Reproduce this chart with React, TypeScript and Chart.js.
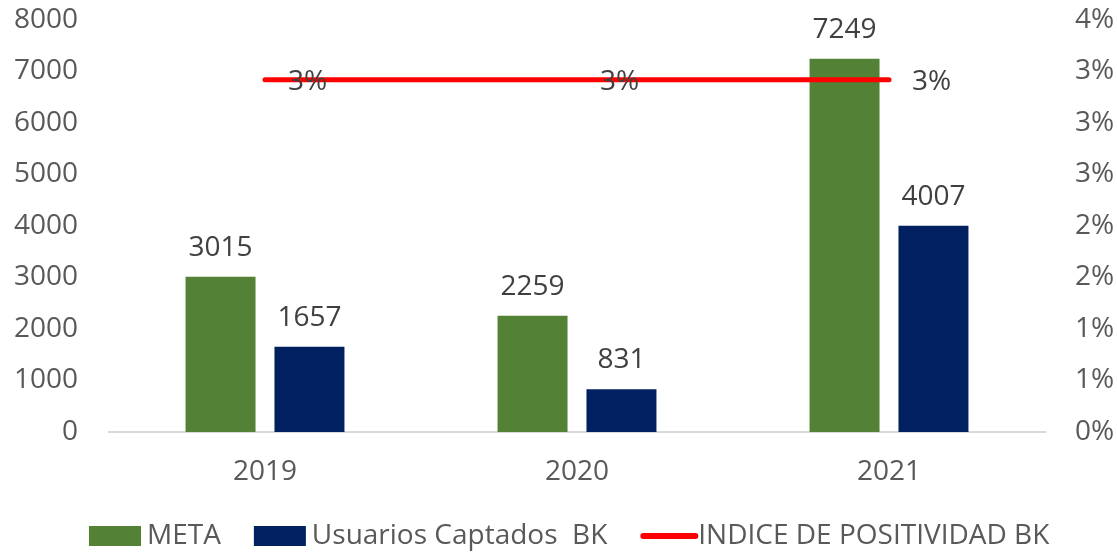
import React, { useEffect, useRef } from "react";
import { Chart, registerables } from "chart.js";

Chart.register(...registerables);

const CATEGORIES = ["2019", "2020", "2021"];
const META = [3015, 2259, 7249];
const USUARIOS = [1657, 831, 4007];
const POSITIVIDAD = [0.0342, 0.0342, 0.0342];
const POSITIVIDAD_LABELS = ["3%", "3%", "3%"];
const LEFT_TICKS = [0, 1000, 2000, 3000, 4000, 5000, 6000, 7000, 8000];
const RIGHT_TICK_LABELS = ["0%", "1%", "1%", "2%", "2%", "3%", "3%", "3%", "4%"];
const SERIES_NAMES = ["META", "Usuarios Captados  BK", "INDICE DE POSITIVIDAD BK"];

const GREEN = "#538135";
const NAVY = "#002060";
const RED = "#FF0000";
const AXIS_TEXT = "#595959";
const LABEL_TEXT = "#404040";
const FONT_FAMILY = "'Open Sans', sans-serif";
const FONT_SIZE = 28;

const dataLabelsPlugin = {
  id: "dataLabelsCustom",
  afterDatasetsDraw(chart: any) {
    const ctx = chart.ctx;
    ctx.save();
    ctx.font = `${FONT_SIZE}px ${FONT_FAMILY}`;
    ctx.fillStyle = LABEL_TEXT;
    chart.data.datasets.forEach((ds: any, i: number) => {
      const meta = chart.getDatasetMeta(i);
      meta.data.forEach((el: any, j: number) => {
        if (ds.type === "line") {
          ctx.textAlign = "left";
          ctx.textBaseline = "middle";
          ctx.fillText(POSITIVIDAD_LABELS[j], el.x + 23, el.y + 2);
        } else {
          ctx.textAlign = "center";
          ctx.textBaseline = "middle";
          ctx.fillText(String(ds.data[j]), el.x, el.y - 29);
        }
      });
    });
    ctx.restore();
  },
};

const legendPlugin = {
  id: "legendCustom",
  afterDraw(chart: any) {
    const ctx = chart.ctx;
    ctx.save();
    ctx.font = `${FONT_SIZE}px ${FONT_FAMILY}`;
    const boxW = 52;
    const boxH = 20;
    const gapBoxText = 6;
    const gapItems = 33;
    const widths = SERIES_NAMES.map((n) => ctx.measureText(n).width);
    let x = 89;
    const cy = 536;
    const colors = [GREEN, NAVY, RED];
    SERIES_NAMES.forEach((name, i) => {
      if (i < 2) {
        ctx.fillStyle = colors[i];
        ctx.fillRect(x, cy - boxH / 2, boxW, boxH);
      } else {
        ctx.strokeStyle = colors[i];
        ctx.lineWidth = 6;
        ctx.lineCap = "round";
        ctx.beginPath();
        ctx.moveTo(x + 3, cy);
        ctx.lineTo(x + boxW + 3, cy);
        ctx.stroke();
      }
      x += boxW + gapBoxText;
      ctx.fillStyle = AXIS_TEXT;
      ctx.textAlign = "left";
      ctx.textBaseline = "middle";
      ctx.fillText(name, x, cy);
      x += widths[i] + gapItems;
    });
    ctx.restore();
  },
};

export default function App() {
  const canvasRef = useRef<HTMLCanvasElement | null>(null);

  useEffect(() => {
    if (!canvasRef.current) return;
    const tickFont = { family: FONT_FAMILY, size: FONT_SIZE };
    const chart = new Chart(canvasRef.current, {
      type: "bar",
      data: {
        labels: CATEGORIES,
        datasets: [
          {
            type: "line",
            label: SERIES_NAMES[2],
            data: POSITIVIDAD,
            yAxisID: "y1",
            borderColor: RED,
            backgroundColor: RED,
            borderWidth: 5,
            borderCapStyle: "round",
            pointRadius: 0,
            tension: 0,
            order: 0,
          } as any,
          {
            type: "bar",
            label: SERIES_NAMES[0],
            data: META,
            yAxisID: "y",
            backgroundColor: GREEN,
            categoryPercentage: 0.57,
            barPercentage: 0.787,
            order: 1,
          },
          {
            type: "bar",
            label: SERIES_NAMES[1],
            data: USUARIOS,
            yAxisID: "y",
            backgroundColor: NAVY,
            categoryPercentage: 0.57,
            barPercentage: 0.787,
            order: 1,
          },
        ],
      },
      options: {
        animation: false,
        responsive: true,
        maintainAspectRatio: false,
        layout: { padding: { top: 20, bottom: 50, left: 0, right: 0 } },
        plugins: {
          legend: { display: false },
          tooltip: { enabled: false },
        },
        scales: {
          x: {
            grid: { display: false, drawTicks: false },
            border: { display: true, color: "#D9D9D9", width: 2 },
            ticks: { color: AXIS_TEXT, font: tickFont, padding: 23 },
            afterFit(scale: any) {
              scale.height = 70;
              scale.paddingLeft = 0;
              scale.paddingRight = 0;
            },
          },
          y: {
            position: "left",
            min: 0,
            max: 8000,
            grid: { display: false, drawTicks: false },
            border: { display: false },
            afterBuildTicks(scale: any) {
              scale.ticks = LEFT_TICKS.map((v) => ({ value: v }));
            },
            ticks: {
              color: AXIS_TEXT,
              font: tickFont,
              padding: 31,
              callback: (v: any) => String(v),
            },
            afterFit(scale: any) {
              scale.width = 109;
              scale.paddingTop = 0;
              scale.paddingBottom = 0;
            },
          },
          y1: {
            position: "right",
            min: 0,
            max: 0.04,
            grid: { display: false, drawTicks: false },
            border: { display: false },
            ticks: {
              stepSize: 0.005,
              color: AXIS_TEXT,
              font: tickFont,
              padding: 30,
              callback: (_v: any, i: number) => RIGHT_TICK_LABELS[i],
            },
            afterFit(scale: any) {
              scale.width = 72;
              scale.paddingTop = 0;
              scale.paddingBottom = 0;
            },
          },
        },
      },
      plugins: [dataLabelsPlugin, legendPlugin],
    } as any);
    return () => chart.destroy();
  }, []);

  return (
    <div
      style={{
        position: "absolute",
        left: 0,
        top: 0,
        width: 1117,
        height: 552,
        background: "#ffffff",
      }}
    >
      <canvas ref={canvasRef} />
    </div>
  );
}
